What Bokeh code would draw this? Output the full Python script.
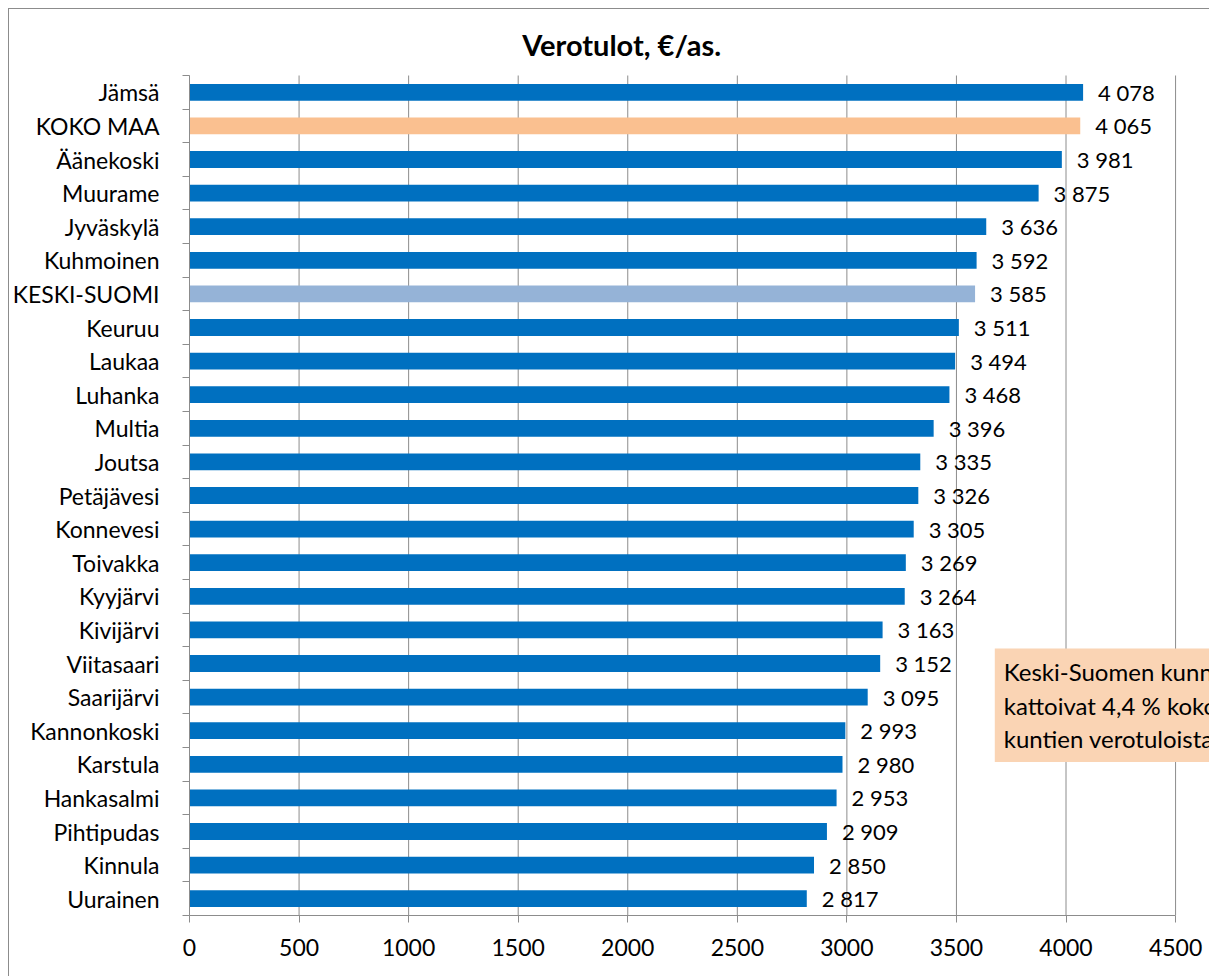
from bokeh.plotting import figure
from bokeh.models import Range1d, FixedTicker, ColumnDataSource, Label
from bokeh.core.properties import value
from bokeh.embed import file_html
from bokeh.resources import INLINE

categories = ["Jämsä", "KOKO MAA", "Äänekoski", "Muurame", "Jyväskylä", "Kuhmoinen",
              "KESKI-SUOMI", "Keuruu", "Laukaa", "Luhanka", "Multia", "Joutsa",
              "Petäjävesi", "Konnevesi", "Toivakka", "Kyyjärvi", "Kivijärvi",
              "Viitasaari", "Saarijärvi", "Kannonkoski", "Karstula", "Hankasalmi",
              "Pihtipudas", "Kinnula", "Uurainen"]
values = [4078, 4065, 3981, 3875, 3636, 3592, 3585, 3511, 3494, 3468, 3396, 3335,
          3326, 3305, 3269, 3264, 3163, 3152, 3095, 2993, 2980, 2953, 2909, 2850, 2817]
x_ticks = [0, 500, 1000, 1500, 2000, 2500, 3000, 3500, 4000, 4500]
title_text = "Verotulot, €/as."
note_text = "Keski-Suomen kunnat\nkattoivat 4,4 % koko maan\nkuntien verotuloista"

BLUE = "#0070C0"
PEACH = "#FAC090"
LIGHTBLUE = "#95B3D7"
GRAY = "#8C8C8C"
FONT = "Lato"

colors = [PEACH if c == "KOKO MAA" else LIGHTBLUE if c == "KESKI-SUOMI" else BLUE
          for c in categories]
n = len(categories)
ypos = [i + 0.5 for i in range(n)]
labels = [f"{v:,}".replace(",", " ") for v in values]
src = ColumnDataSource(dict(y=ypos, v=values, c=colors, lab=labels))
grid_src = ColumnDataSource(dict(x=x_ticks, y0=[0] * len(x_ticks), y1=[n] * len(x_ticks)))

# layout geometry (pixels)
W, H = 1201, 968
LEFT = 178
BOTTOM = 62
AXIS_PX = 988          # pixels from 0 to 4500
ROW_PX = 33.6          # pixels per category row
TOP_PX = 66            # pixels above first category row (title area)
x_max = x_ticks[-1]
x_end = x_max * (W - LEFT) / AXIS_PX
y_top = -TOP_PX / ROW_PX

p = figure(width=W, height=H, output_backend="svg", toolbar_location=None,
           x_range=Range1d(0, x_end), y_range=Range1d(n, y_top))
p.min_border_left = LEFT
p.min_border_right = 0
p.min_border_top = 0
p.min_border_bottom = BOTTOM
p.outline_line_color = None
p.background_fill_color = "white"
p.border_fill_color = "white"
p.styles = {"margin-left": "8px", "margin-top": "8px",
            "border-left": f"1px solid {GRAY}", "border-top": f"1px solid {GRAY}"}

# vertical gridlines limited to the category area
p.segment(x0="x", y0="y0", x1="x", y1="y1", line_color=GRAY, line_width=1,
          source=grid_src, level="underlay")

p.hbar(y="y", right="v", left=0, height=0.5, fill_color="c", line_color=None, source=src)
p.text(x="v", y="y", text="lab", x_offset=15, text_baseline="middle", text_align="left",
       text_font=value(FONT), text_font_size="22px", text_color="#000000", source=src)

# x axis
xa = p.xaxis[0]
xa.ticker = FixedTicker(ticks=x_ticks)
xa.bounds = (0, x_max)
xa.axis_line_color = GRAY
xa.major_tick_line_color = GRAY
xa.major_tick_out = 7
xa.major_tick_in = 0
xa.minor_tick_line_color = None
xa.major_label_text_font = FONT
xa.major_label_text_font_size = "23px"
xa.major_label_text_color = "#000000"
xa.major_label_standoff = 16

# y axis
ya = p.yaxis[0]
ya.ticker = FixedTicker(ticks=ypos, minor_ticks=list(range(n + 1)))
ya.bounds = (0, n)
ya.major_label_overrides = {y: c for y, c in zip(ypos, categories)}
ya.axis_line_color = GRAY
ya.major_tick_line_color = None
ya.major_tick_out = 0
ya.major_tick_in = 0
ya.minor_tick_line_color = GRAY
ya.minor_tick_out = 7
ya.minor_tick_in = 0
ya.major_label_text_font = FONT
ya.major_label_text_font_size = "23px"
ya.major_label_text_color = "#000000"
ya.major_label_standoff = 23

p.xgrid.grid_line_color = None
p.ygrid.grid_line_color = None

p.add_layout(Label(x=1972, y=-0.92, text=title_text, text_align="center",
                   text_baseline="middle", text_font=FONT, text_font_size="29px",
                   text_font_style="bold", text_color="#000000"))

p.add_layout(Label(x=3675, y=17.05, text=note_text, text_align="left",
                   text_baseline="top", text_font=FONT, text_font_size="24px",
                   text_color="#000000", text_line_height=1.15,
                   background_fill_color="#FAD4B4", padding=9))

open("out.html", "w").write(file_html(p, INLINE))
